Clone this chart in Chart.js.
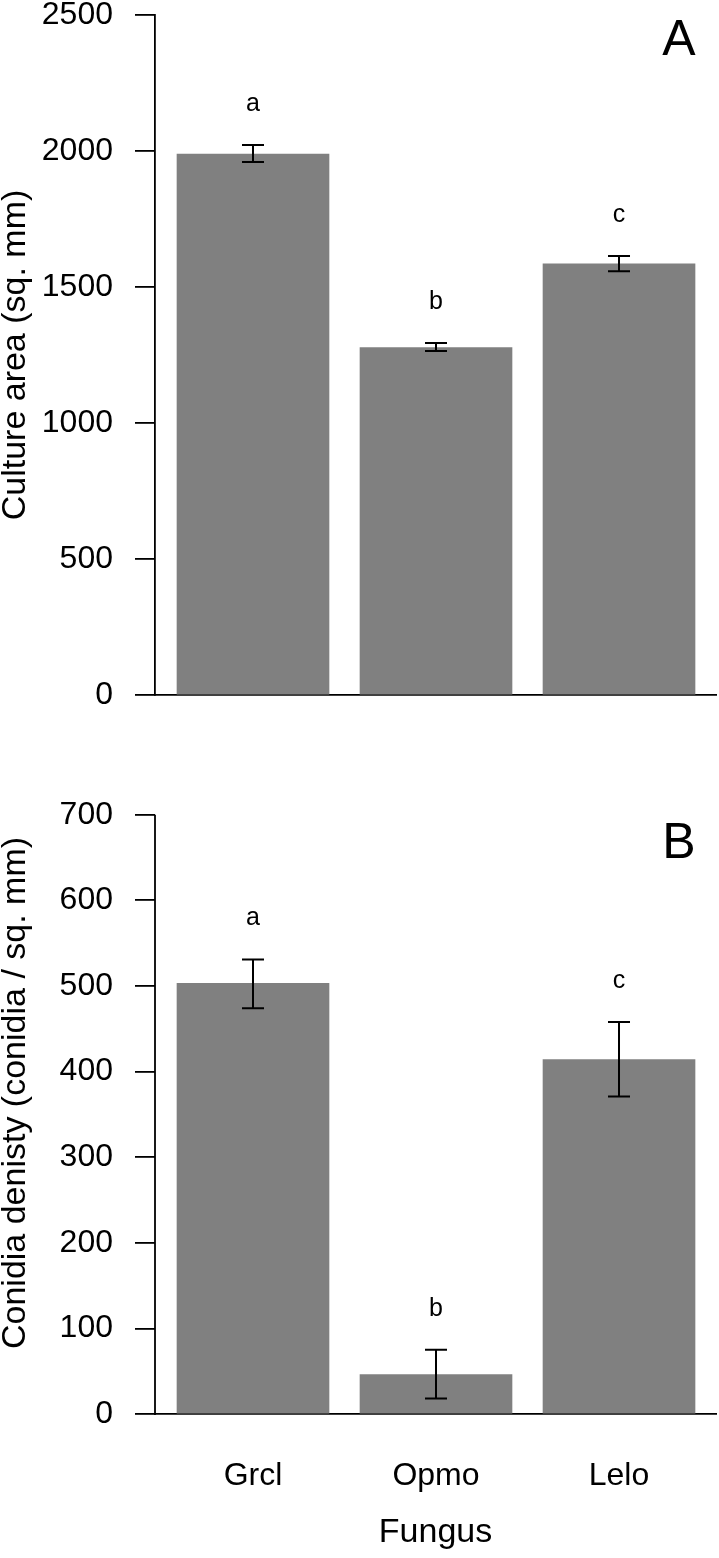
<!DOCTYPE html>
<html>
<head>
<meta charset="utf-8">
<script src="https://cdn.jsdelivr.net/npm/chart.js@4.4.1/dist/chart.umd.min.js"></script>
<style>
body { margin: 0; background: #fff; width: 719px; height: 1558px; overflow: hidden; position: relative; }
canvas { position: absolute; left: 0; }
#chartA { top: -40px; }
#chartB { top: 720px; }
</style>
</head>
<body>
<canvas id="chartA" width="719" height="800"></canvas>
<canvas id="chartB" width="719" height="838"></canvas>
<script>
var fungi = ['Grcl', 'Opmo', 'Lelo'];

// panel A: culture area
var areaMean = [1989, 1277, 1585];
var areaLow = [1960, 1265, 1558];
var areaHigh = [2022, 1294, 1614];
var areaLetters = ['a', 'b', 'c'];
var areaTicks = [0, 500, 1000, 1500, 2000, 2500];

// panel B: conidia density
var densMean = [503, 46, 414];
var densLow = [474, 18, 371];
var densHigh = [531, 75, 458];
var densLetters = ['a', 'b', 'c'];
var densTicks = [0, 100, 200, 300, 400, 500, 600, 700];

var FONT = '"Liberation Sans", Arial, sans-serif';

// error bars, significance letters, panel letter
var errorBars = {
    id: 'errorBars',
    afterDatasetsDraw: function(chart, args, opts) {
        var ctx = chart.ctx;
        var xs = chart.scales.x;
        var ys = chart.scales.y;
        ctx.save();
        ctx.strokeStyle = '#000';
        ctx.fillStyle = '#000';
        ctx.lineWidth = 2;

        if (opts.axisTop !== undefined) {
            var ax = chart.chartArea.left;
            ctx.lineWidth = 1.8;
            ctx.beginPath();
            ctx.moveTo(ax, ys.getPixelForValue(0) + 1);
            ctx.lineTo(ax, ys.getPixelForValue(opts.axisTop));
            ctx.stroke();
            ctx.lineWidth = 2;
        }

        ctx.textAlign = 'center';
        ctx.textBaseline = 'alphabetic';
        for (var i = 0; i < opts.low.length; i++) {
            var x = xs.getPixelForValue(i + 1);
            var yl = ys.getPixelForValue(opts.low[i]);
            var yh = ys.getPixelForValue(opts.high[i]);
            ctx.beginPath();
            ctx.moveTo(x, yl);
            ctx.lineTo(x, yh);
            ctx.moveTo(x - 11, yl);
            ctx.lineTo(x + 11, yl);
            ctx.moveTo(x - 11, yh);
            ctx.lineTo(x + 11, yh);
            ctx.stroke();
            ctx.font = '25px ' + FONT;
            ctx.fillText(opts.letters[i], x, yh - 34);
        }
        ctx.font = '50px ' + FONT;
        ctx.fillText(opts.panel, 679, opts.panelY);
        ctx.restore();
    }
};

function makeChart(id, p) {
    var ctx = document.getElementById(id).getContext('2d');
    var points = [];
    for (var i = 0; i < fungi.length; i++) {
        points.push({x: i + 1, y: p.mean[i]});
    }
    return new Chart(ctx, {
        type: 'bar',
        data: {
            datasets: [{
                data: points,
                backgroundColor: '#808080',
                borderWidth: 0,
                barThickness: 152
            }]
        },
        plugins: [errorBars],
        options: {
            responsive: false,
            animation: false,
            layout: { padding: { top: p.padTop, right: 3, left: 0, bottom: 0 } },
            plugins: {
                legend: { display: false },
                tooltip: { enabled: false },
                errorBars: {
                    low: p.low, high: p.high, letters: p.letters,
                    panel: p.panel, panelY: p.panelY, axisTop: p.axisTop
                }
            },
            scales: {
                x: {
                    type: 'linear',
                    offset: false,
                    min: 0.4645,
                    max: 3.530,
                    afterBuildTicks: function(s) {
                        s.ticks = [1, 2, 3].map(function(v) { return {value: v}; });
                    },
                    afterFit: function(s) { s.height = p.xHeight; },
                    ticks: {
                        display: p.showX,
                        autoSkip: false,
                        maxRotation: 0,
                        color: '#000',
                        padding: 46,
                        font: { family: FONT, size: 32, lineHeight: 1 },
                        callback: function(v, idx) { return fungi[idx]; }
                    },
                    grid: { display: false, drawTicks: false },
                    border: { display: true, color: '#000', width: 1.8 },
                    title: {
                        display: p.showX,
                        text: 'Fungus',
                        color: '#000',
                        font: { family: FONT, size: 34, lineHeight: 1 },
                        padding: { top: 0, bottom: 8 }
                    }
                },
                y: {
                    min: 0,
                    max: p.yMax,
                    afterBuildTicks: function(s) {
                        s.ticks = p.ticks.map(function(v) { return {value: v}; });
                    },
                    afterFit: function(s) { s.width = 155; },
                    ticks: {
                        color: '#000',
                        padding: 22,
                        font: { family: FONT, size: 32, lineHeight: 1 },
                        callback: function(v) { return String(v); }
                    },
                    grid: {
                        display: true,
                        drawOnChartArea: false,
                        drawTicks: true,
                        tickLength: 20,
                        color: '#000',
                        lineWidth: 1.8
                    },
                    border: { display: p.axisTop === undefined, color: '#000', width: 1.8 },
                    title: {
                        display: true,
                        text: p.title,
                        color: '#000',
                        font: { family: FONT, size: 34, lineHeight: 0.9 },
                        padding: { top: 0, bottom: 0 }
                    }
                }
            }
        }
    });
}

makeChart('chartA', {
    mean: areaMean, low: areaLow, high: areaHigh, letters: areaLetters,
    ticks: areaTicks, yMax: 2500, title: 'Culture area (sq. mm)',
    panel: 'A', panelY: 95, padTop: 55, xHeight: 65, showX: false
});

makeChart('chartB', {
    mean: densMean, low: densLow, high: densHigh, letters: densLetters,
    ticks: densTicks, yMax: 750, axisTop: 700, title: 'Conidia denisty (conidia / sq. mm)',
    panel: 'B', panelY: 138, padTop: 52, xHeight: 144, showX: true
});
</script>
</body>
</html>
